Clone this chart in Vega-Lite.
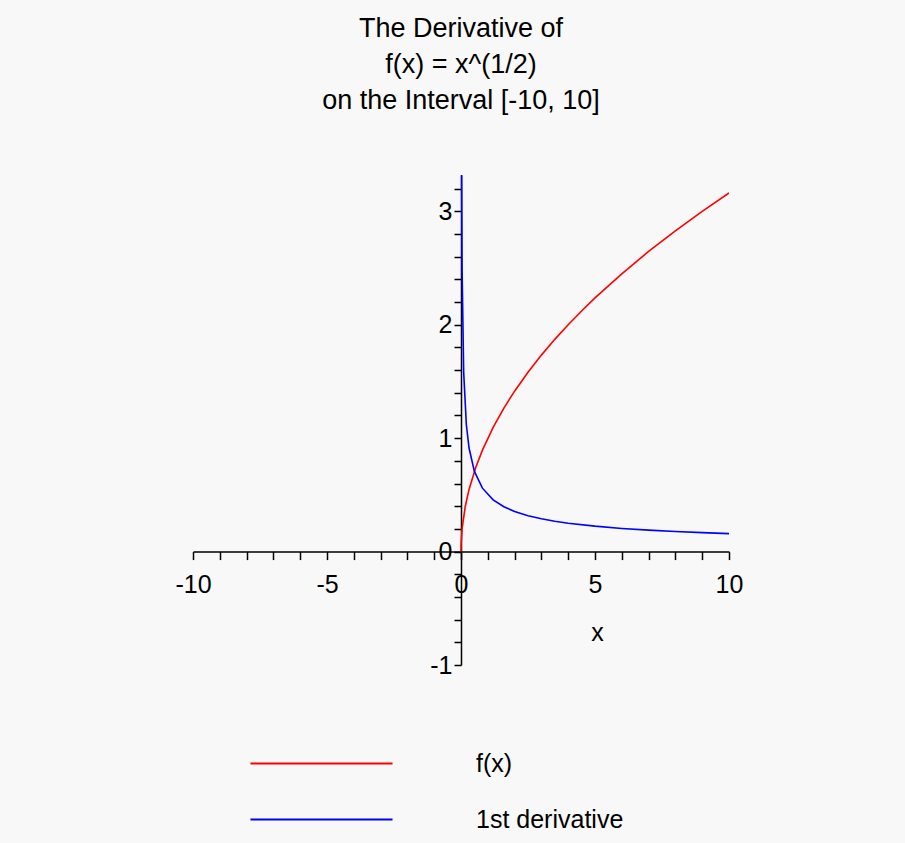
{
  "$schema": "https://vega.github.io/schema/vega-lite/v6.json",
  "autosize": {"type": "none"},
  "width": 536,
  "height": 490,
  "padding": {"left": 193, "top": 175, "right": 176, "bottom": 178},
  "background": "#f8f8f8",
  "title": {
    "text": ["The Derivative of", "f(x) = x^(1/2)", "on the Interval [-10, 10]"],
    "anchor": "middle",
    "font": "Liberation Sans",
    "fontSize": 27,
    "fontWeight": "normal",
    "color": "#000000",
    "lineHeight": 36,
    "offset": 60
  },
  "config": {
    "view": {"stroke": null},
    "axis": {
      "domainColor": "#000000",
      "tickColor": "#000000",
      "domainWidth": 1.5,
      "tickWidth": 1.5,
      "grid": false,
      "labelFont": "Liberation Sans",
      "labelFontSize": 25,
      "labelColor": "#000000",
      "labelFlush": false,
      "titleFont": "Liberation Sans",
      "titleFontSize": 25,
      "titleFontWeight": "normal",
      "titleColor": "#000000"
    },
    "legend": {
      "labelFont": "Liberation Sans",
      "labelFontSize": 25,
      "labelColor": "#000000"
    }
  },
  "data": {
    "values": [
      {"x": 0, "y": 0, "series": "f(x)"},
      {"x": 0.005, "y": 0.07, "series": "f(x)"},
      {"x": 0.04, "y": 0.2, "series": "f(x)"},
      {"x": 0.16, "y": 0.4, "series": "f(x)"},
      {"x": 0.3, "y": 0.548, "series": "f(x)"},
      {"x": 0.55, "y": 0.742, "series": "f(x)"},
      {"x": 0.8, "y": 0.894, "series": "f(x)"},
      {"x": 1.2, "y": 1.095, "series": "f(x)"},
      {"x": 1.6, "y": 1.265, "series": "f(x)"},
      {"x": 2.0, "y": 1.414, "series": "f(x)"},
      {"x": 2.5, "y": 1.581, "series": "f(x)"},
      {"x": 3.0, "y": 1.732, "series": "f(x)"},
      {"x": 3.5, "y": 1.871, "series": "f(x)"},
      {"x": 4.0, "y": 2.0, "series": "f(x)"},
      {"x": 4.5, "y": 2.121, "series": "f(x)"},
      {"x": 5.0, "y": 2.236, "series": "f(x)"},
      {"x": 6.0, "y": 2.449, "series": "f(x)"},
      {"x": 7.0, "y": 2.646, "series": "f(x)"},
      {"x": 8.0, "y": 2.828, "series": "f(x)"},
      {"x": 9.0, "y": 3.0, "series": "f(x)"},
      {"x": 10.0, "y": 3.162, "series": "f(x)"},
      {"x": 0.002, "y": 11.2, "series": "1st derivative"},
      {"x": 0.02, "y": 3.54, "series": "1st derivative"},
      {"x": 0.04, "y": 2.5, "series": "1st derivative"},
      {"x": 0.1, "y": 1.58, "series": "1st derivative"},
      {"x": 0.2, "y": 1.118, "series": "1st derivative"},
      {"x": 0.3, "y": 0.913, "series": "1st derivative"},
      {"x": 0.5, "y": 0.707, "series": "1st derivative"},
      {"x": 0.8, "y": 0.559, "series": "1st derivative"},
      {"x": 1.2, "y": 0.456, "series": "1st derivative"},
      {"x": 1.6, "y": 0.395, "series": "1st derivative"},
      {"x": 2.0, "y": 0.354, "series": "1st derivative"},
      {"x": 2.5, "y": 0.316, "series": "1st derivative"},
      {"x": 3.0, "y": 0.289, "series": "1st derivative"},
      {"x": 3.5, "y": 0.267, "series": "1st derivative"},
      {"x": 4.0, "y": 0.25, "series": "1st derivative"},
      {"x": 5.0, "y": 0.224, "series": "1st derivative"},
      {"x": 6.0, "y": 0.204, "series": "1st derivative"},
      {"x": 7.0, "y": 0.189, "series": "1st derivative"},
      {"x": 8.0, "y": 0.177, "series": "1st derivative"},
      {"x": 9.0, "y": 0.167, "series": "1st derivative"},
      {"x": 10.0, "y": 0.158, "series": "1st derivative"}
    ]
  },
  "mark": {"type": "line", "clip": true, "strokeWidth": 1.6},
  "encoding": {
    "x": {
      "field": "x",
      "type": "quantitative",
      "scale": {"domain": [-10, 10], "nice": false, "zero": false},
      "axis": {
        "orient": "bottom",
        "offset": -113.4,
        "values": [-10, -9, -8, -7, -6, -5, -4, -3, -2, -1, 0, 1, 2, 3, 4, 5, 6, 7, 8, 9, 10],
        "labelExpr": "datum.value % 5 === 0 ? '' + datum.value : ''",
        "tickSize": 8,
        "labelPadding": 13,
        "labelOverlap": false,
        "title": "x",
        "titleX": 404,
        "titleY": 81,
        "titleBaseline": "middle",
        "titleAnchor": null
      }
    },
    "y": {
      "field": "y",
      "type": "quantitative",
      "scale": {"domain": [-1, 3.32], "nice": false, "zero": false},
      "axis": {
        "orient": "left",
        "offset": -268,
        "values": [-1, -0.8, -0.6, -0.4, -0.2, 0, 0.2, 0.4, 0.6, 0.8, 1, 1.2, 1.4, 1.6, 1.8, 2, 2.2, 2.4, 2.6, 2.8, 3, 3.2],
        "labelExpr": "abs(datum.value - round(datum.value)) < 0.001 ? '' + round(datum.value) : ''",
        "tickSize": 7,
        "labelPadding": 2,
        "labelOverlap": false,
        "title": null
      }
    },
    "color": {
      "field": "series",
      "type": "nominal",
      "sort": ["f(x)", "1st derivative"],
      "scale": {"domain": ["f(x)", "1st derivative"], "range": ["#ff0000", "#0000ff"]},
      "legend": {
        "title": null,
        "orient": "none",
        "legendX": 116,
        "legendY": 576,
        "padding": 0,
        "direction": "vertical",
        "symbolType": "M-7,0H7",
        "symbolSize": 412,
        "symbolStrokeWidth": 2,
        "labelOffset": 142,
        "rowPadding": 30
      }
    }
  }
}
